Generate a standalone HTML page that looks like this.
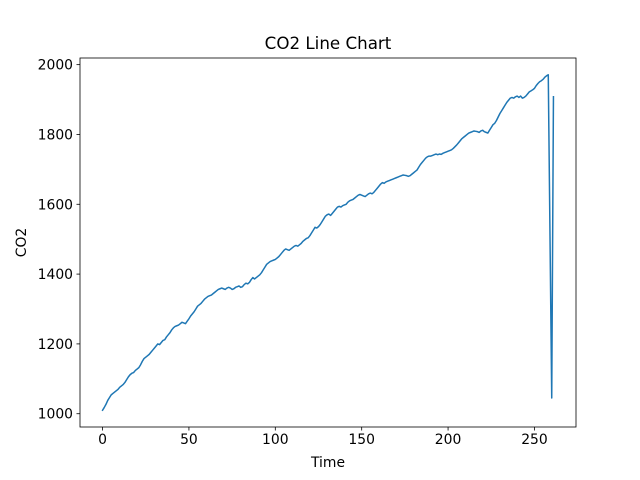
<!DOCTYPE html>
<html><head><meta charset="utf-8"><style>
html,body{margin:0;padding:0;background:#fff;}
svg{display:block;font-family:"DejaVu Sans","Liberation Sans",sans-serif;}
</style></head><body>
<svg id="chart" width="640" height="480" viewBox="0 0 640 480">
<rect x="0" y="0" width="640" height="480" fill="#fff"/>
<text x="328" y="49" text-anchor="middle" font-size="16.7">CO2 Line Chart</text>
<text x="328" y="467" text-anchor="middle" font-size="13.9">Time</text>
<text transform="translate(26,242.5) rotate(-90)" text-anchor="middle" font-size="13.9">CO2</text>
<g id="plot"></g>
</svg>
<script>
const co2 = [
1010,1018,1027,1038,1046,1054,1058,1062,1066,1070,
1076,1080,1084,1090,1098,1106,1112,1116,1118,1124,
1128,1132,1140,1150,1158,1162,1166,1170,1176,1182,
1188,1194,1200,1198,1204,1210,1212,1220,1226,1232,
1240,1246,1250,1252,1254,1258,1262,1260,1258,1265,
1272,1280,1286,1292,1300,1308,1312,1316,1322,1328,
1332,1336,1338,1340,1344,1348,1352,1356,1358,1360,
1358,1356,1360,1362,1360,1356,1358,1362,1364,1366,
1362,1364,1370,1374,1372,1376,1384,1390,1386,1390,
1394,1398,1404,1412,1420,1428,1432,1436,1438,1440,
1442,1446,1450,1456,1462,1468,1472,1470,1468,1472,
1476,1480,1482,1480,1484,1488,1494,1498,1502,1504,
1510,1518,1526,1534,1532,1536,1542,1550,1558,1566,
1570,1572,1568,1574,1580,1586,1592,1594,1592,1596,
1598,1600,1606,1610,1612,1614,1618,1622,1626,1628,
1626,1624,1622,1626,1630,1632,1630,1634,1640,1646,
1652,1658,1662,1660,1664,1666,1668,1670,1672,1674,
1676,1678,1680,1682,1684,1683,1682,1680,1682,1686,
1690,1694,1698,1706,1714,1720,1726,1732,1736,1738,
1738,1740,1742,1744,1742,1744,1743,1746,1748,1750,
1752,1754,1756,1760,1765,1770,1776,1782,1788,1792,
1796,1800,1804,1806,1808,1810,1809,1808,1806,1810,
1812,1808,1806,1804,1812,1820,1828,1832,1840,1850,
1860,1868,1876,1884,1892,1898,1904,1906,1904,1908,
1910,1906,1910,1904,1906,1910,1916,1922,1925,1928,
1932,1940,1946,1951,1954,1958,1964,1968,1971,
1508,1045,1908];
const xTicks = [0,50,100,150,200,250];
const yTicks = [1000,1200,1400,1600,1800,2000];

const L=80,R=576,T=58,B=427;
const n=co2.length;
const xmin=-(n-1)*0.05, xmax=(n-1)*1.05;
const dmin=Math.min(...co2), dmax=Math.max(...co2), pad=(dmax-dmin)*0.05;
const ymin=dmin-pad, ymax=dmax+pad;
const xs=v=>L+(v-xmin)/(xmax-xmin)*(R-L);
const ys=v=>B-(v-ymin)/(ymax-ymin)*(B-T);
const NS="http://www.w3.org/2000/svg";
const g=document.getElementById('plot');
function mk(tag,attrs){const e=document.createElementNS(NS,tag);for(const k in attrs)e.setAttribute(k,attrs[k]);g.appendChild(e);return e;}

const pts=co2.map((v,i)=>xs(i).toFixed(2)+','+ys(v).toFixed(2)).join(' ');
const line=mk('polyline',{points:pts,fill:'none',stroke:'#1f77b4','stroke-width':1.5,'stroke-linejoin':'round','stroke-linecap':'square'});



const frame=mk('rect',{x:L,y:T,width:R-L,height:B-T,fill:'none',stroke:'#000','stroke-width':0.8});



xTicks.forEach(t=>{
  const x=xs(t);
  const tk=mk('line',{x1:x,x2:x,y1:B,y2:B+3.5,stroke:'#000','stroke-width':0.8});
  
  
  const tx=mk('text',{x:x,y:B+17,'text-anchor':'middle','font-size':13.9});
  tx.textContent=t;
  
  
});
yTicks.forEach(t=>{
  const y=ys(t);
  const tk=mk('line',{x1:L-3.5,x2:L,y1:y,y2:y,stroke:'#000','stroke-width':0.8});
  
  
  const tx=mk('text',{x:L-7,y:y+5,'text-anchor':'end','font-size':13.9});
  tx.textContent=t;
  
  
});
</script>
</body></html>
